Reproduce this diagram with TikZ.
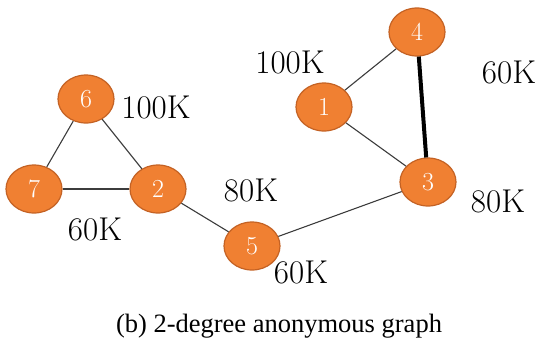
\documentclass[tikz,border=0pt]{standalone}
\usepackage{fontspec}
\newfontfamily\capfont{Liberation Serif}
\usetikzlibrary{shapes.geometric}
\definecolor{nodefill}{RGB}{240,128,50}
\definecolor{nodeline}{RGB}{196,98,36}
\definecolor{edgecol}{RGB}{60,60,60}
\begin{document}
\begin{tikzpicture}[x=1pt,y=-1pt,
  vert/.style={ellipse, minimum width=56pt, minimum height=48pt, inner sep=0pt,
    fill=nodefill, draw=nodeline, line width=1.2pt, text=white, font=\fontsize{26}{28}\selectfont},
  edge/.style={draw=edgecol, line width=1.1pt},
  heavy/.style={draw=black, line width=4pt},
  wlabel/.style={font=\fontsize{33}{35}\selectfont, text=black, inner sep=0pt}]
\useasboundingbox (0,0) rectangle (542,354);
\node[vert] (n6) at (86,99) {6};
\node[vert] (n7) at (34,189) {7};
\node[vert] (n2) at (158,189) {2};
\node[vert] (n1) at (324,107) {1};
\node[vert] (n4) at (417,32) {4};
\node[vert] (n3) at (428,182) {3};
\node[vert] (n5) at (252,246) {5};
\draw[edge] (n6) -- (n7);
\draw[edge] (n6) -- (n2);
\draw[edge] (n7) -- (n2);
\draw[edge] (n2) -- (n5);
\draw[edge] (n5) -- (n3);
\draw[edge] (n1) -- (n4);
\draw[edge] (n1) -- (n3);
\draw[heavy] (n4) -- (n3);
\node[wlabel] (l6) at (156,107) {100K};
\node[wlabel] (l7) at (95,229) {60K};
\node[wlabel] (l1) at (290,62) {100K};
\node[wlabel] (l4) at (509,72) {60K};
\node[wlabel] (l2) at (251,190) {80K};
\node[wlabel] (l3) at (498,201) {80K};
\node[wlabel] (l5) at (301,272) {60K};
\node[font=\capfont\fontsize{26.5}{28}\selectfont, inner sep=0pt] (cap) at (279,326) {(b) 2-degree anonymous graph};
\end{tikzpicture}
\end{document}
